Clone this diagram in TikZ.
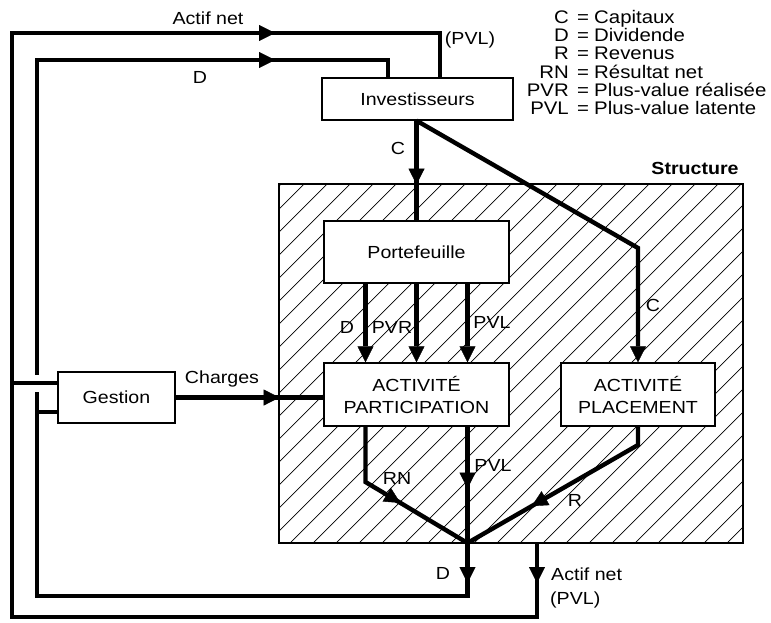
\documentclass[tikz,border=0pt]{standalone}
\usepackage{fontspec}
\setmainfont{Liberation Sans}[FakeStretch=1.12]
\usetikzlibrary{arrows.meta,decorations.markings}

\begin{document}
\begin{tikzpicture}[x=1pt,y=-1pt,
  every node/.style={align=center,font=\fontsize{17.5}{22}\selectfont,inner sep=0pt},
  box/.style={draw,line width=1.3pt,fill=white},
  flow/.style={line width=4.4pt},
  tip/.style={-{Triangle[length=16pt,width=16pt,line width=0.4pt]}},
  tipat/.style={postaction={decorate,decoration={markings,mark=at position #1 with {\arrow{Triangle[length=16pt,width=16pt,line width=0.4pt]}}}}},
  hatch/.style={line width=0.7pt},
  legend/.style={font=\fontsize{18.2}{18}\selectfont}]
  \useasboundingbox (0,0) rectangle (771,622);

  \node[draw,line width=1.7pt,minimum width=464pt,minimum height=359pt,
    path picture={\foreach \k in {-380,-357,...,480}
      \draw[hatch] ([xshift=\k pt]path picture bounding box.south west) -- ++(45:540pt);}] (struct) at (511,363.5) {};
  \node[font=\bfseries\fontsize{17.5}{22}\selectfont] (lStruct) at (695,168) {Structure};

  \node[box,minimum width=191pt,minimum height=42pt] (inv) at (417.5,99) {Investisseurs};
  \node[box,minimum width=185pt,minimum height=62pt] (port) at (416.5,252) {Portefeuille};
  \node[box,minimum width=185pt,minimum height=63pt] (part) at (416.5,394.5) {ACTIVITÉ\\PARTICIPATION};
  \node[box,minimum width=154pt,minimum height=63pt] (plac) at (638,394.5) {ACTIVITÉ\\PLACEMENT};
  \node[box,minimum width=117pt,minimum height=51pt] (gest) at (116.5,397.5) {Gestion};

  \coordinate (merge) at (467.5,543);
  \coordinate (cBend) at (638,248);
  \coordinate (rnBend) at (365.5,482);
  \coordinate (rBend) at (638,445);
  \coordinate (dBot) at (467.5,596);
  \coordinate (dTop) at (37,60);
  \coordinate (dTopR) at (388,60);
  \coordinate (anTop) at (537,543);
  \coordinate (anBot) at (537,617);
  \coordinate (outTop) at (12,33);
  \coordinate (outTopR) at (440,33);
  \coordinate (gIn) at (37,412);
  \coordinate (gOut) at (12,383);

  \draw[flow,tipat=64pt] (inv.south -| port.north) -- (port.north);
  \draw[flow,tip] (inv.south -| port.north) -- (cBend) -- (plac.north);
  \foreach \dx in {-51,0,51}
    \draw[flow,tip] ([xshift=\dx pt]port.south) -- ([xshift=\dx pt]part.north);
  \draw[flow,tipat=104pt] (gest.east) -- (gest.east -| part.west);
  \draw[flow,tipat=96pt] ([xshift=-51pt]part.south) -- (rnBend) -- (merge);
  \draw[flow,tipat=62pt] ([xshift=51pt]part.south) -- (merge);
  \draw[flow,tipat=141pt] (plac.south) -- (rBend) -- (merge);
  \draw[flow,tipat=40pt,tipat=1257.5pt] (merge) -- (dBot) -| (dTop) -- (dTopR) -- (dTopR |- inv.north);
  \draw[flow,tipat=40pt,tipat=1446pt] (anTop) -- (anBot) -| (outTop) -- (outTopR) -- (outTopR |- inv.north);
  \draw[flow] (gIn) -- (gIn -| gest.west);
  \draw[flow,preaction={draw=white,line width=17pt,shorten >=4pt,shorten <=1pt}] (gest.west |- gOut) -- (gOut);

  \node (lActifTop) at (208,18) {Actif net};
  \node (lPvlTop) at (470,40) {(PVL)};
  \node (lDTop) at (200,77) {D};
  \node (lC1) at (398,148) {C};
  \node (lC2) at (653,305) {C};
  \node (lD) at (347,327) {D};
  \node (lPvr) at (392,327) {PVR};
  \node (lPvl) at (492,322) {PVL};
  \node (lCharges) at (222,379) {Charges};
  \node (lRn) at (397,478) {RN};
  \node (lPvl2) at (493,465) {PVL};
  \node (lR) at (575,500) {R};
  \node (lDBot) at (443,573) {D};
  \node[anchor=west] (lActifBot) at (551,574) {Actif net};
  \node[anchor=west] (lPvlBot) at (550,600) {(PVL)};

  \foreach \ab/\full [count=\i] in {C/Capitaux,D/Dividende,R/Revenus,RN/Résultat net,PVR/Plus-value réalisée,PVL/Plus-value latente}{
    \node[legend,anchor=base east] (ab\i) at (569,{5.3+18.2*\i}) {\ab};
    \node[legend,anchor=base] (eq\i) at (583,{5.3+18.2*\i}) {=};
    \node[legend,anchor=base west] (def\i) at (594,{5.3+18.2*\i}) {\full};
  }
\end{tikzpicture}
\end{document}
